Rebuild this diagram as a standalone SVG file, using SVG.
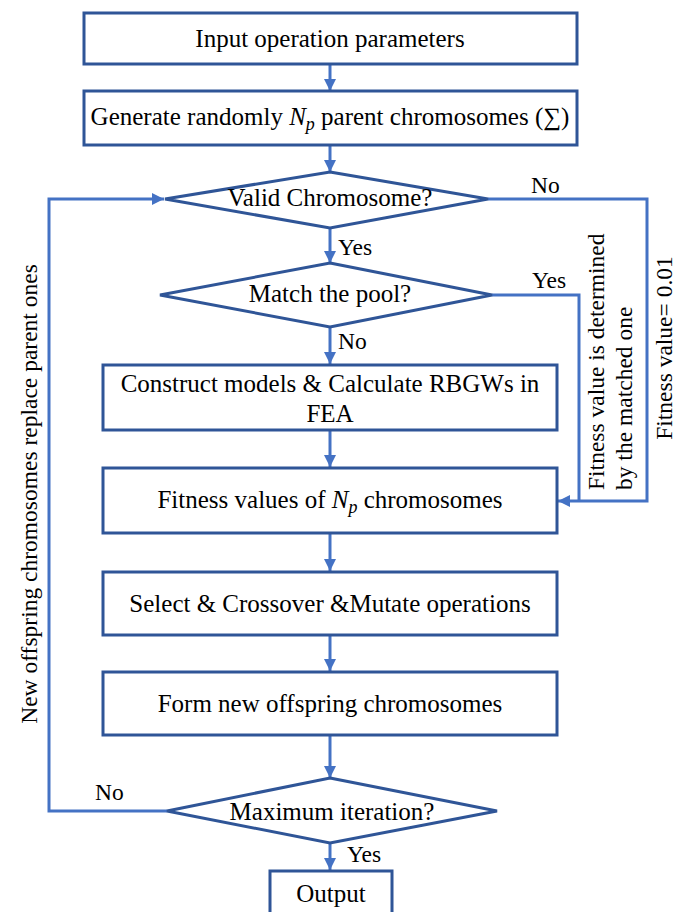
<svg xmlns="http://www.w3.org/2000/svg" width="676" height="912" viewBox="0 0 676 912">
<defs>
<marker id="ah" viewBox="0 0 10 10" refX="10" refY="5" markerWidth="4" markerHeight="4" markerUnits="strokeWidth" orient="auto">
<path d="M0,0 L10,5 L0,10 z" fill="#4472C4"/>
</marker>
<style>
.n{fill:#fff;stroke:#2F5597;stroke-width:3}
.c{fill:none;stroke:#4472C4;stroke-width:3}
text{font-family:'Liberation Serif','Times New Roman',serif;fill:#000}
.t{font-size:25px;text-anchor:middle}
.l{font-size:23.5px}
.i{font-style:italic}
</style>
</defs>
<rect width="676" height="912" fill="#fff"/>
<g id="connectors">
<line class="c" x1="330" y1="64" x2="330" y2="91" marker-end="url(#ah)"/>
<line class="c" x1="330" y1="145" x2="330" y2="172" marker-end="url(#ah)"/>
<line class="c" x1="330" y1="228" x2="330" y2="263" marker-end="url(#ah)"/>
<line class="c" x1="330" y1="327" x2="330" y2="364" marker-end="url(#ah)"/>
<line class="c" x1="330" y1="430" x2="330" y2="467" marker-end="url(#ah)"/>
<line class="c" x1="330" y1="533" x2="330" y2="571" marker-end="url(#ah)"/>
<line class="c" x1="330" y1="635" x2="330" y2="671" marker-end="url(#ah)"/>
<line class="c" x1="330" y1="735" x2="330" y2="778" marker-end="url(#ah)"/>
<line class="c" x1="330" y1="843" x2="330" y2="870" marker-end="url(#ah)"/>
<polyline class="c" points="488,199 647,199 647,501 558,501" marker-end="url(#ah)"/>
<polyline class="c" points="492,295 579,295 579,501"/>
<polyline class="c" points="167,811 49,811 49,199 164,199" marker-end="url(#ah)"/>
<text class="l" x="531" y="193">No</text>
<text class="l" x="532" y="288">Yes</text>
<text class="l" x="338" y="255">Yes</text>
<text class="l" x="338" y="349">No</text>
<text class="l" x="95" y="800">No</text>
<text class="l" x="347" y="862">Yes</text>
<text class="l" transform="translate(604,490) rotate(-90)">Fitness value is determined</text>
<text class="l" transform="translate(632,490) rotate(-90)">by the matched one</text>
<text class="l" transform="translate(672,348) rotate(-90)" text-anchor="middle">Fitness value= 0.01</text>
<text class="l" transform="translate(37,494) rotate(-90)" text-anchor="middle">New offspring chromosomes replace parent ones</text>
</g>
<g id="input">
<rect class="n" x="84" y="13" width="493" height="51"/>
<text class="t" x="330" y="47">Input operation parameters</text>
</g>
<g id="generate">
<rect class="n" x="84" y="91" width="493" height="54"/>
<text class="t" x="330" y="125">Generate randomly <tspan class="i">N</tspan><tspan class="i" font-size="18" dy="5">p</tspan><tspan dy="-5"> parent chromosomes (∑)</tspan></text>
</g>
<g id="valid">
<polygon class="n" points="330,172 488,199 330,228 165,199"/>
<text class="t" x="330" y="206">Valid Chromosome?</text>
</g>
<g id="match">
<polygon class="n" points="330,263 492,295 330,327 160,295"/>
<text class="t" x="330" y="302">Match the pool?</text>
</g>
<g id="construct">
<rect class="n" x="103" y="365" width="454" height="65"/>
<text class="t" x="330" y="392">Construct models &amp; Calculate RBGWs in</text>
<text class="t" x="330" y="422">FEA</text>
</g>
<g id="fitness">
<rect class="n" x="103" y="468" width="454" height="65"/>
<text class="t" x="330" y="508">Fitness values of <tspan class="i">N</tspan><tspan class="i" font-size="18" dy="5">p</tspan><tspan dy="-5"> chromosomes</tspan></text>
</g>
<g id="select">
<rect class="n" x="103" y="572" width="454" height="63"/>
<text class="t" x="330" y="612">Select &amp; Crossover &amp;Mutate operations</text>
</g>
<g id="form">
<rect class="n" x="103" y="672" width="454" height="63"/>
<text class="t" x="330" y="712">Form new offspring chromosomes</text>
</g>
<g id="maxiter">
<polygon class="n" points="330,778 497,811 330,843 167,811"/>
<text class="t" x="332" y="820">Maximum iteration?</text>
</g>
<g id="output">
<rect class="n" x="270" y="871" width="122" height="50"/>
<text class="t" x="331" y="902">Output</text>
</g>
</svg>
